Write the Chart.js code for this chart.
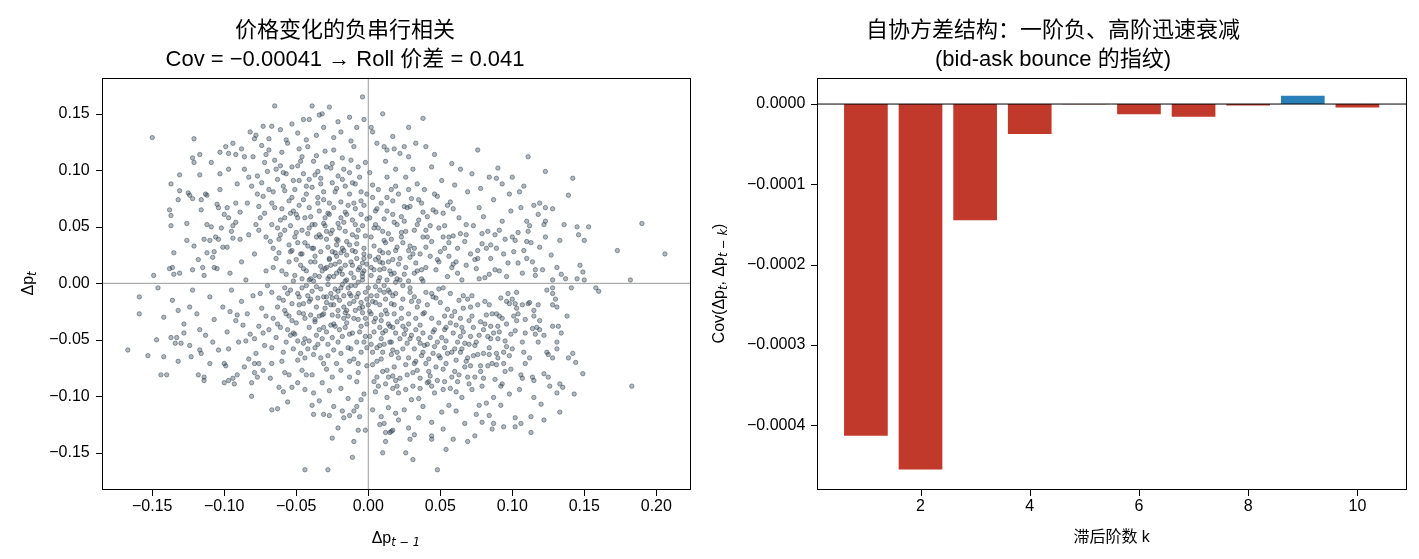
<!DOCTYPE html>
<html>
<head>
<meta charset="utf-8">
<script src="https://cdn.jsdelivr.net/npm/chart.js@4.4.1/dist/chart.umd.min.js"></script>
<style>
  body { margin: 0; background: #fff; width: 1419px; height: 559px; overflow: hidden; position: relative; }
  .panel { position: absolute; top: 0; height: 559px; }
  #leftPanel  { left: 0;     width: 700px; }
  #rightPanel { left: 700px; width: 719px; }
</style>
</head>
<body>
<div class="panel" id="leftPanel"><canvas id="scatterChart"></canvas></div>
<div class="panel" id="rightPanel"><canvas id="acfChart"></canvas></div>
<script>
// ─────────────────────────────────────────────
// Data
// ─────────────────────────────────────────────

// (Δp_{t-1}, Δp_t) pairs — sparse edge of the cloud
const scatterOuter = [
  [-0.150,0.129],[-0.121,0.128],[-0.065,0.157],[-0.039,0.157],[-0.027,0.156],[-0.004,0.165],[0.010,0.150],[-0.073,0.139],
  [-0.067,0.139],[-0.082,0.134],[-0.079,0.128],[-0.069,0.128],[-0.045,0.145],[-0.041,0.145],[-0.034,0.149],[-0.032,0.150],
  [-0.013,0.147],[-0.003,0.145],[0.017,0.130],[-0.131,0.096],[-0.137,0.088],[-0.138,0.065],[-0.137,0.060],[-0.137,0.051],
  [-0.135,0.027],[-0.149,0.007],[-0.138,0.013],[-0.136,0.014],[-0.131,0.009],[-0.135,0.008],[-0.131,0.082],[-0.132,0.074],
  [-0.126,0.053],[-0.121,0.033],[-0.122,0.111],[-0.121,0.107],[-0.117,0.114],[-0.117,0.096],[-0.125,0.080],[-0.124,0.078],
  [-0.122,0.075],[-0.116,0.074],[-0.113,0.079],[-0.112,0.078],[-0.116,0.065],[-0.109,0.107],[-0.103,0.116],[-0.099,0.121],
  [-0.103,0.097],[-0.097,0.115],[-0.097,0.101],[-0.092,0.114],[-0.086,0.112],[-0.114,0.039],[-0.110,0.038],[-0.104,0.039],
  [-0.112,0.027],[-0.108,0.023],[-0.109,0.050],[-0.105,0.070],[-0.104,0.067],[-0.098,0.067],[-0.097,0.058],[-0.092,0.054],
  [-0.102,0.049],[-0.095,0.046],[-0.094,0.040],[-0.101,0.032],[-0.107,0.014],[-0.105,0.013],[-0.115,0.014],[-0.122,0.012],
  [0.038,0.146],[0.028,0.138],[0.002,0.138],[0.003,0.134],[0.033,0.124],[0.040,0.121],[0.025,0.121],[0.011,0.121],
  [0.013,0.118],[0.076,0.118],[0.111,0.112],[0.123,0.099],[0.142,0.093],[0.139,0.078],[0.090,0.102],[0.089,0.093],
  [0.100,0.094],[0.108,0.086],[0.105,0.081],[0.190,0.053],[0.206,0.026],[0.173,0.029],[0.182,0.003],[0.153,0.050],
  [0.145,0.050],[0.150,0.038],[0.146,0.043],[0.136,0.052],[0.133,0.038],[0.128,0.066],[0.123,0.067],[0.122,0.052],
  [0.123,0.041],[0.119,0.032],[0.147,0.016],[0.149,0.010],[0.145,0.004],[0.150,0.003],[0.131,0.014],[0.137,0.004],
  [0.128,0.003],[0.116,0.007],[0.115,0.069],[0.119,0.071],[0.118,0.061],[0.123,0.055],[0.110,0.055],[0.111,0.046],
  [0.110,0.037],[-0.167,-0.059],[-0.159,-0.012],[-0.159,-0.027],[-0.146,-0.004],[-0.153,-0.064],[-0.142,-0.030],[-0.147,-0.050],
  [-0.144,-0.081],[-0.140,-0.081],[-0.142,-0.065],[-0.132,-0.069],[-0.123,-0.065],[-0.136,-0.015],[-0.132,-0.024],[-0.124,-0.021],
  [-0.137,-0.048],[-0.133,-0.048],[-0.128,-0.044],[-0.134,-0.053],[-0.130,-0.053],[-0.124,-0.055],[-0.118,-0.081],[-0.114,-0.083],
  [-0.114,-0.086],[-0.117,-0.059],[-0.117,-0.041],[-0.110,-0.071],[-0.100,-0.088],[-0.097,-0.086],[-0.094,-0.084],[-0.093,-0.089],
  [-0.099,-0.073],[-0.081,-0.100],[-0.077,-0.083],[-0.079,-0.071],[-0.076,-0.071],[-0.067,-0.112],[-0.063,-0.111],[-0.056,-0.105],
  [-0.059,-0.096],[-0.044,-0.165],[-0.028,-0.165],[-0.038,-0.116],[-0.038,-0.097],[-0.027,-0.117],[-0.025,-0.137],[-0.021,-0.128],
  [-0.011,-0.154],[-0.010,-0.140],[-0.007,-0.130],[-0.002,-0.130],[-0.017,-0.119],[-0.013,-0.117],[-0.010,-0.113],[-0.008,-0.109],
  [-0.005,-0.103],[0.010,-0.150],[0.012,-0.140],[0.012,-0.132],[0.015,-0.132],[0.017,-0.130],[0.011,-0.124],[0.009,-0.118],
  [0.019,-0.115],[0.014,-0.110],[0.048,-0.165],[0.031,-0.156],[0.026,-0.150],[0.054,-0.147],[0.069,-0.140],[0.074,-0.135],
  [0.059,-0.138],[0.044,-0.138],[0.044,-0.135],[0.032,-0.134],[0.029,-0.138],[0.016,-0.131],[0.086,-0.129],[0.087,-0.124],
  [0.094,-0.127],[0.102,-0.127],[0.106,-0.124],[0.113,-0.132],[0.113,-0.118],[0.102,-0.119],[0.079,-0.123],[0.122,-0.121],
  [0.133,-0.114],[0.120,-0.107],[0.183,-0.091],[0.149,-0.080],[0.143,-0.098],[0.144,-0.070],[0.142,-0.062],[0.139,-0.066],
  [0.135,-0.092],[0.133,-0.089],[0.131,-0.097],[0.126,-0.091],[0.125,-0.083],[0.122,-0.080],[0.115,-0.101],[0.115,-0.086],
  [0.107,-0.084],[0.131,-0.052],[0.131,-0.058],[0.128,-0.066],[0.124,-0.061],[0.125,-0.063],[0.128,-0.038],[0.132,-0.038],
  [0.134,-0.044],[0.122,-0.046],[0.119,-0.041],[0.114,-0.040],[0.116,-0.045],[0.128,-0.004],[0.128,-0.009],[0.130,-0.014],
  [0.128,-0.019],[0.141,-0.004],[0.158,-0.004],[0.160,-0.007],[0.118,-0.019],[0.115,-0.024],[0.109,-0.032],[0.103,-0.033],
  [0.104,-0.027],[0.101,-0.029],[0.112,-0.017],[0.107,-0.019],[0.102,-0.018],[0.098,-0.018],[0.100,-0.014],
  [-0.094,0.124],[-0.088,0.119],[-0.078,0.131],[-0.074,0.122],[-0.061,0.136],[-0.057,0.127],[-0.049,0.133],[-0.043,0.127],
  [-0.036,0.131],[-0.031,0.138],[-0.024,0.129],[-0.019,0.134],[-0.012,0.126],[-0.008,0.138],[0.006,0.124],[0.018,0.119],
  [0.028,0.112],[0.046,0.114],[0.058,0.106],[0.064,0.101],[-0.021,0.143],[-0.053,0.141],
  [-0.006,-0.118],[0.003,-0.112],[0.008,-0.125],[0.021,-0.121],[0.028,-0.128],[0.038,-0.109],[0.044,-0.123],[0.052,-0.129],
  [0.061,-0.113],[0.067,-0.124],[0.077,-0.108],[0.084,-0.117],[0.092,-0.108],[-0.018,-0.113],[-0.031,-0.116],[-0.039,-0.108],
  [0.121,0.012],[0.124,-0.006],[0.127,0.025],[0.131,-0.021],[0.134,0.008],[0.119,-0.033],[0.138,-0.029],[0.112,0.051],
  [0.106,0.067],[0.098,0.079],[0.093,0.088],[0.084,0.094],[0.078,0.084],
  [-0.118,0.021],[-0.122,-0.006],[-0.126,0.038],[-0.119,-0.027],[-0.114,0.007],[-0.108,-0.052],[-0.116,-0.062],[-0.106,0.041],
  [-0.128,-0.036],
];

// (Δp_{t-1}, Δp_t) pairs — body of the cloud
const scatterCore = [
  [-0.091,0.088],[-0.084,0.071],[-0.077,0.095],[-0.072,0.062],[-0.066,0.081],[-0.061,0.104],[-0.058,0.047],[-0.055,0.073],
  [-0.052,0.091],[-0.049,0.058],[-0.046,0.112],[-0.044,0.036],[-0.041,0.067],[-0.039,0.085],[-0.037,0.052],[-0.035,0.099],
  [-0.033,0.028],[-0.031,0.074],[-0.029,0.046],[-0.027,0.061],[-0.025,0.089],[-0.023,0.017],[-0.021,0.038],[-0.019,0.072],
  [-0.017,0.054],[-0.015,0.025],[-0.013,0.098],[-0.011,0.043],[-0.009,0.066],[-0.007,0.012],[-0.005,0.081],[-0.003,0.031],
  [-0.001,0.057],[-0.098,0.032],[-0.094,0.051],[-0.088,0.019],[-0.083,0.043],[-0.079,0.026],[-0.075,0.058],[-0.071,0.011],
  [-0.068,0.037],[-0.064,0.022],[-0.060,0.066],[-0.057,0.008],[-0.053,0.029],[-0.050,0.045],[-0.047,0.016],[-0.043,0.079],
  [-0.040,0.004],[-0.036,0.041],[-0.032,0.011],[-0.028,0.032],[-0.024,0.006],[-0.020,0.049],[-0.016,0.002],[-0.012,0.019],
  [-0.008,0.035],[-0.004,0.009],[-0.086,0.101],[-0.080,0.112],[-0.073,0.077],[-0.069,0.118],[-0.063,0.092],[-0.056,0.124],
  [-0.051,0.083],[-0.045,0.097],[-0.042,0.121],[-0.038,0.108],[-0.034,0.064],[-0.030,0.117],[-0.026,0.102],[-0.022,0.084],
  [-0.018,0.111],[-0.014,0.069],[-0.010,0.121],[-0.006,0.094],[-0.002,0.107],[-0.112,0.052],[-0.107,0.028],[-0.103,0.083],
  [-0.100,0.061],[-0.096,0.009],[-0.092,0.071],[-0.089,0.039],[-0.085,0.003],[-0.081,0.086],[-0.076,0.047],[-0.070,0.099],
  [-0.067,0.052],[-0.062,0.039],[-0.059,0.086],[-0.054,0.062],[-0.048,0.069],[-0.046,0.026],[-0.041,0.049],[-0.037,0.019],
  [-0.033,0.088],[-0.029,0.014],[-0.026,0.044],[-0.022,0.024],[-0.018,0.092],[-0.015,0.037],[-0.011,0.056],[-0.007,0.047],
  [-0.003,0.022],[-0.065,0.109],[-0.053,0.103],[-0.048,0.091],[-0.044,0.058],[-0.039,0.031],[-0.035,0.076],[-0.031,0.053],
  [-0.027,0.022],[-0.024,0.067],[-0.020,0.011],[-0.016,0.046],[-0.013,0.079],[-0.009,0.028],[-0.005,0.061],[-0.002,0.042],
  [0.003,0.087],[0.005,0.052],[0.007,0.023],[0.009,0.071],[0.011,0.038],[0.013,0.094],[0.015,0.011],[0.017,0.061],
  [0.019,0.029],[0.021,0.079],[0.023,0.045],[0.025,0.008],[0.027,0.067],[0.029,0.033],[0.031,0.101],[0.033,0.018],
  [0.035,0.056],[0.037,0.004],[0.039,0.083],[0.041,0.041],[0.043,0.024],[0.045,0.065],[0.047,0.012],[0.049,0.049],
  [0.051,0.091],[0.053,0.031],[0.055,0.006],[0.057,0.072],[0.059,0.042],[0.061,0.019],[0.063,0.058],[0.065,0.003],
  [0.067,0.037],[0.069,0.081],[0.071,0.026],[0.073,0.051],[0.075,0.013],[0.077,0.067],[0.079,0.035],[0.081,0.005],
  [0.083,0.046],[0.085,0.022],[0.087,0.074],[0.089,0.031],[0.091,0.011],[0.093,0.055],[0.095,0.039],[0.097,0.018],
  [0.099,0.064],[0.101,0.028],[0.104,0.045],[0.107,0.009],[0.110,0.022],[0.113,0.036],[0.116,0.012],[0.002,0.014],
  [0.004,0.033],[0.006,0.066],[0.008,0.005],[0.010,0.046],[0.012,0.108],[0.014,0.027],[0.016,0.083],[0.018,0.009],
  [0.020,0.052],[0.022,0.115],[0.024,0.036],[0.026,0.094],[0.028,0.002],[0.030,0.075],[0.032,0.047],[0.034,0.088],
  [0.036,0.026],[0.038,0.063],[0.040,0.014],[0.044,0.103],[0.048,0.077],[0.052,0.062],[0.056,0.024],[0.060,0.087],
  [0.064,0.044],[0.068,0.016],[0.072,0.097],[0.076,0.029],[0.080,0.059],[0.084,0.008],[0.088,0.043],
  [-0.002,-0.008],[-0.004,-0.021],[-0.006,-0.043],[-0.008,-0.012],[-0.010,-0.031],[-0.012,-0.058],[-0.014,-0.004],[-0.016,-0.026],
  [-0.018,-0.047],[-0.020,-0.015],[-0.022,-0.071],[-0.024,-0.036],[-0.026,-0.009],[-0.028,-0.054],[-0.030,-0.022],[-0.032,-0.088],
  [-0.034,-0.041],[-0.036,-0.003],[-0.038,-0.063],[-0.040,-0.028],[-0.042,-0.011],[-0.044,-0.049],[-0.046,-0.077],[-0.048,-0.019],
  [-0.050,-0.035],[-0.052,-0.058],[-0.054,-0.006],[-0.056,-0.041],[-0.058,-0.024],[-0.060,-0.069],[-0.062,-0.013],[-0.064,-0.048],
  [-0.066,-0.031],[-0.068,-0.084],[-0.070,-0.002],[-0.072,-0.055],[-0.074,-0.022],[-0.076,-0.038],[-0.078,-0.062],[-0.080,-0.011],
  [-0.082,-0.045],[-0.084,-0.027],[-0.086,-0.074],[-0.088,-0.016],[-0.090,-0.052],[-0.092,-0.033],[-0.095,-0.006],[-0.098,-0.043],
  [-0.101,-0.021],[-0.104,-0.059],[-0.107,-0.032],[-0.110,-0.012],[-0.113,-0.046],[-0.001,-0.036],[-0.003,-0.052],[-0.005,-0.017],
  [-0.007,-0.071],[-0.009,-0.002],[-0.011,-0.044],[-0.013,-0.083],[-0.015,-0.035],[-0.017,-0.011],[-0.019,-0.062],[-0.021,-0.029],
  [-0.023,-0.005],[-0.025,-0.048],[-0.027,-0.095],[-0.029,-0.017],[-0.031,-0.039],[-0.033,-0.066],[-0.035,-0.013],[-0.037,-0.032],
  [-0.039,-0.081],[-0.041,-0.051],[-0.043,-0.002],[-0.045,-0.027],[-0.047,-0.062],[-0.049,-0.009],[-0.051,-0.045],[-0.053,-0.092],
  [-0.055,-0.029],[-0.057,-0.052],[-0.059,-0.015],[-0.063,-0.036],[-0.067,-0.057],[-0.071,-0.029],[-0.075,-0.009],[-0.079,-0.049],
  [-0.083,-0.067],[-0.087,-0.037],[-0.091,-0.081],[-0.096,-0.025],[-0.100,-0.071],[-0.003,-0.098],[-0.008,-0.087],[-0.014,-0.102],
  [-0.019,-0.093],[-0.024,-0.109],[-0.029,-0.076],[-0.034,-0.104],[-0.044,-0.094],[-0.049,-0.088],[-0.058,-0.079],[-0.062,-0.092],
  [-0.073,-0.077],[-0.081,-0.088],
  [0.002,-0.011],[0.004,-0.034],[0.006,-0.057],[0.008,-0.019],[0.010,-0.078],[0.012,-0.042],[0.014,-0.006],[0.016,-0.063],
  [0.018,-0.027],[0.020,-0.091],[0.022,-0.049],[0.024,-0.014],[0.026,-0.072],[0.028,-0.036],[0.030,-0.103],[0.032,-0.058],
  [0.034,-0.021],[0.036,-0.084],[0.038,-0.044],[0.040,-0.008],[0.042,-0.067],[0.044,-0.031],[0.046,-0.097],[0.048,-0.052],
  [0.050,-0.017],[0.052,-0.076],[0.054,-0.039],[0.056,-0.108],[0.058,-0.061],[0.060,-0.025],[0.062,-0.087],[0.064,-0.047],
  [0.066,-0.011],[0.068,-0.069],[0.070,-0.033],[0.072,-0.094],[0.074,-0.055],[0.076,-0.019],[0.078,-0.078],[0.080,-0.041],
  [0.082,-0.106],[0.084,-0.063],[0.086,-0.027],[0.088,-0.085],[0.090,-0.049],[0.092,-0.013],[0.094,-0.071],[0.096,-0.036],
  [0.098,-0.098],[0.100,-0.058],[0.103,-0.022],[0.106,-0.081],[0.109,-0.044],[0.112,-0.066],[0.115,-0.029],[0.118,-0.052],
  [0.001,-0.047],[0.003,-0.072],[0.005,-0.003],[0.007,-0.091],[0.009,-0.028],[0.011,-0.054],[0.013,-0.101],[0.015,-0.038],
  [0.017,-0.082],[0.019,-0.009],[0.021,-0.066],[0.023,-0.031],[0.025,-0.112],[0.027,-0.053],[0.029,-0.004],[0.031,-0.079],
  [0.033,-0.041],[0.035,-0.119],[0.037,-0.064],[0.039,-0.026],[0.041,-0.088],[0.043,-0.048],[0.045,-0.012],[0.047,-0.074],
  [0.049,-0.035],[0.051,-0.114],[0.053,-0.057],[0.055,-0.023],[0.057,-0.093],[0.059,-0.044],[0.061,-0.068],[0.063,-0.015],
  [0.065,-0.101],[0.067,-0.053],[0.069,-0.083],[0.071,-0.021],[0.073,-0.064],[0.075,-0.116],[0.077,-0.046],[0.079,-0.091],
  [0.081,-0.016],[0.083,-0.073],[0.085,-0.038],[0.087,-0.101],[0.089,-0.062],[0.091,-0.029],[0.093,-0.089],[0.095,-0.051],
  [0.097,-0.009],[0.099,-0.076],[0.102,-0.042],[0.105,-0.094],[0.108,-0.061],[0.111,-0.018],[0.114,-0.083],[0.117,-0.039],
  [-0.028,0.004],[-0.025,-0.013],[-0.022,0.009],[-0.019,-0.004],[-0.016,0.016],[-0.013,-0.018],[-0.010,0.005],[-0.007,-0.009],
  [-0.004,0.018],[-0.001,-0.014],[0.002,0.007],[0.005,-0.017],[0.008,0.012],[0.011,-0.002],[0.014,0.019],[0.017,-0.011],
  [0.020,0.004],[0.023,-0.022],[0.026,0.014],[0.029,-0.008],[0.032,0.009],[0.035,-0.016],[0.038,0.002],[-0.031,-0.027],
  [-0.027,0.021],[-0.023,-0.038],[-0.019,0.027],[-0.015,-0.024],[-0.011,0.029],[-0.007,-0.032],[-0.003,0.026],[0.001,-0.025],
  [0.005,0.021],[0.009,-0.033],[0.013,0.003],[0.017,-0.039],[0.021,0.017],[0.025,-0.045],[0.029,0.023],[0.033,-0.031],
  [0.037,0.012],[-0.026,-0.019],[-0.021,-0.007],[-0.017,-0.031],[-0.012,-0.011],[-0.008,0.022],[-0.004,-0.026],[0.000,-0.004],
  [0.004,-0.043],[0.008,-0.006],[0.012,-0.024],[0.016,0.008],[0.020,-0.034],[0.024,-0.002],[0.028,-0.027],[0.032,-0.012],
  [0.036,-0.037],[-0.045,0.013],[-0.041,-0.016],[-0.037,0.007],[-0.033,-0.005],[-0.029,0.039],[-0.025,0.028],[-0.021,0.053],
  [0.041,-0.019],[0.045,-0.043],[0.049,-0.005],[0.053,-0.029],[0.057,-0.009],[0.061,-0.037],[0.065,-0.058],[0.069,-0.014],
];

// (Δp_{t-1}, Δp_t) pairs — darkest parts of the cloud
const scatterDense = [
  [-0.058,-0.004],[-0.055,0.019],[-0.053,-0.033],[-0.051,0.007],[-0.049,-0.051],[-0.047,0.026],[-0.045,-0.018],[-0.043,0.011],
  [-0.041,-0.039],[-0.039,-0.007],[-0.037,0.024],[-0.035,-0.054],[-0.033,0.015],[-0.031,-0.012],[-0.029,-0.043],[-0.027,0.006],
  [-0.025,-0.028],[-0.023,0.027],[-0.021,-0.052],[-0.019,0.013],[-0.017,-0.021],[-0.015,0.003],[-0.013,-0.045],[-0.011,0.016],
  [-0.009,-0.024],[-0.007,0.001],[-0.005,-0.038],[-0.003,0.011],[-0.001,-0.057],[0.001,0.024],[0.003,-0.016],[0.005,-0.031],
  [0.007,0.002],[0.009,-0.049],[0.011,0.013],[0.013,-0.027],[0.015,-0.008],[0.017,0.021],[0.019,-0.044],
  [-0.057,-0.027],[-0.052,0.002],[-0.048,-0.012],[-0.044,-0.031],[-0.040,0.019],[-0.036,-0.021],[-0.032,-0.049],[-0.028,-0.001],
  [-0.024,-0.059],[-0.020,0.019],[-0.016,-0.039],[-0.012,-0.002],[-0.008,-0.052],[-0.004,0.006],[0.000,-0.019],[0.004,0.012],
  [0.008,-0.039],[0.012,-0.014],[0.016,-0.052],[0.019,0.001],[-0.054,-0.046],[-0.050,0.021],[-0.046,-0.004],[-0.042,-0.058],
  [-0.038,0.002],[-0.034,-0.029],[-0.030,0.013],[-0.026,-0.037],[-0.022,-0.012],[-0.018,0.008],[-0.014,-0.057],[-0.010,-0.016],
  [-0.006,0.014],[-0.002,-0.031],[0.002,-0.054],[0.006,-0.011],[0.010,0.027],[0.014,-0.036],[0.018,-0.019],[-0.060,0.011],
  [0.003,-0.061],[0.006,-0.083],[0.009,-0.067],[0.012,-0.089],[0.015,-0.052],[0.018,-0.074],[0.021,-0.097],[0.024,-0.058],
  [0.027,-0.081],[0.030,-0.046],[0.033,-0.069],[0.036,-0.093],[0.039,-0.055],[0.042,-0.078],[0.045,-0.062],[0.048,-0.086],
  [0.051,-0.048],[0.054,-0.071],[0.057,-0.035],[0.060,-0.058],[0.063,-0.081],[0.066,-0.043],[0.069,-0.066],[0.072,-0.029],
  [0.075,-0.052],[0.078,-0.073],[0.081,-0.036],[0.084,-0.057],[0.087,-0.044],[0.090,-0.066],[0.093,-0.031],[0.096,-0.056],
  [0.099,-0.045],[0.004,-0.087],[0.008,-0.055],[0.013,-0.077],[0.017,-0.059],[0.022,-0.084],[0.026,-0.041],[0.031,-0.091],
  [0.035,-0.049],[0.040,-0.071],[0.044,-0.091],[0.049,-0.064],[0.053,-0.041],[0.058,-0.083],[0.062,-0.052],[0.067,-0.074],
  [0.071,-0.047],[0.076,-0.063],[0.080,-0.084],[0.085,-0.049],[0.089,-0.072],[0.094,-0.061],[0.038,-0.061],[0.046,-0.056],
  [0.055,-0.062],[0.064,-0.031],[0.073,-0.039],[0.082,-0.028],[0.091,-0.043],[0.028,-0.066],[0.019,-0.086],[0.010,-0.061],
  [0.034,-0.077],[0.043,-0.082],[0.052,-0.094],[0.061,-0.096],[0.070,-0.089],
  [-0.078,0.052],[-0.074,0.089],[-0.071,0.041],[-0.067,0.071],[-0.064,0.101],[-0.061,0.056],[-0.058,0.082],[-0.055,0.034],
  [-0.052,0.064],[-0.049,0.104],[-0.046,0.047],[-0.043,0.086],[-0.040,0.059],[-0.037,0.096],[-0.034,0.043],[-0.031,0.081],
  [-0.028,0.062],[-0.025,0.106],[-0.022,0.039],[-0.019,0.058],[-0.016,0.086],[-0.013,0.034],[-0.010,0.071],[-0.007,0.103],
  [-0.004,0.051],[-0.001,0.079],[-0.076,0.068],[-0.069,0.083],[-0.063,0.049],[-0.057,0.097],[-0.051,0.041],[-0.045,0.074],
  [-0.039,0.052],[-0.033,0.093],[-0.027,0.071],[-0.021,0.095],[-0.015,0.061],[-0.009,0.088],[-0.003,0.069],[-0.072,0.107],
  [-0.060,0.116],[-0.048,0.119],[-0.036,0.113],[-0.024,0.118],[-0.012,0.109],[-0.066,0.031],[-0.054,0.051],[-0.042,0.033],
  [-0.030,0.058],[-0.018,0.031],
  [0.002,0.041],[0.005,0.064],[0.008,0.029],[0.011,0.057],[0.014,0.044],[0.017,0.073],[0.020,0.032],[0.023,0.059],
  [0.026,0.046],[0.029,0.068],[0.032,0.031],[0.035,0.074],[0.038,0.041],[0.041,0.059],[0.044,0.037],[0.047,0.063],
  [0.050,0.028],[0.053,0.051],[0.056,0.041],[0.059,0.066],[0.003,0.076],[0.007,0.049],[0.010,0.018],[0.013,0.064],
  [0.016,0.039],[0.019,0.086],[0.022,0.022],[0.025,0.055],[0.028,0.083],[0.031,0.026],[0.034,0.052],[0.037,0.071],
  [0.040,0.032],[0.043,0.051],[0.046,0.079],[0.049,0.019],[0.052,0.041],[0.055,0.069],[0.058,0.014],[0.001,0.058],
];

// (Δp_{t-1}, Δp_t) pairs — more of the busy middle band
const scatterBand = [
  [-0.069,-0.041],[-0.066,0.014],[-0.063,-0.021],[-0.061,0.043],[-0.059,-0.061],[-0.056,-0.009],[-0.054,0.028],[-0.052,-0.044],
  [-0.050,0.061],[-0.048,-0.026],[-0.046,0.004],[-0.044,-0.066],[-0.042,0.044],[-0.040,-0.014],[-0.038,0.031],[-0.036,-0.046],
  [-0.034,0.006],[-0.032,-0.028],[-0.030,0.051],[-0.028,-0.064],[-0.026,0.016],[-0.024,-0.019],[-0.022,0.034],[-0.020,-0.041],
  [-0.018,-0.001],[-0.016,0.063],[-0.014,-0.029],[-0.012,0.009],[-0.010,-0.067],[-0.008,0.041],[-0.006,-0.022],[-0.004,0.003],
  [-0.002,-0.047],[-0.067,-0.008],[-0.062,0.027],[-0.058,0.058],[-0.053,-0.018],[-0.049,0.036],[-0.045,-0.053],[-0.041,0.003],
  [-0.037,-0.034],[-0.033,0.041],[-0.029,-0.012],[-0.025,0.047],[-0.021,-0.024],[-0.017,0.029],[-0.013,-0.009],[-0.009,0.052],
  [-0.005,-0.061],[-0.001,0.017],
  [0.002,-0.027],[0.004,0.049],[0.006,-0.069],[0.008,0.019],[0.010,-0.044],[0.012,0.036],[0.014,-0.083],[0.016,-0.018],
  [0.018,0.054],[0.020,-0.061],[0.022,0.003],[0.024,-0.038],[0.026,-0.094],[0.028,0.029],[0.030,-0.016],[0.032,-0.071],
  [0.034,0.011],[0.036,-0.053],[0.038,-0.027],[0.040,0.047],[0.042,-0.087],[0.044,-0.009],[0.046,-0.041],[0.048,0.021],
  [0.050,-0.066],[0.052,-0.004],[0.054,-0.051],[0.056,0.036],[0.058,-0.029],[0.060,-0.078],[0.062,0.009],[0.064,-0.061],
  [0.066,-0.022],[0.068,0.043],[0.070,-0.054],[0.072,-0.011],[0.074,-0.083],[0.076,0.022],[0.078,-0.034],[0.080,-0.062],
  [0.082,0.031],[0.084,-0.019],[0.086,-0.071],[0.088,0.012],[0.090,-0.038],[0.092,-0.091],[0.094,0.026],[0.096,-0.016],
  [0.098,-0.064],[0.100,0.041],[0.005,-0.096],[0.011,-0.008],[0.017,-0.093],[0.023,0.041],[0.029,-0.049],[0.035,-0.102],
  [0.041,-0.054],[0.047,-0.013],[0.053,-0.087],[0.059,0.017],[0.065,-0.039],[0.071,-0.073],[0.077,0.004],[0.083,-0.047],
  [0.089,-0.027],[0.095,-0.078],[0.103,-0.008],[0.107,-0.052],[0.104,0.018],[0.109,-0.071],
  [-0.089,0.063],[-0.083,0.094],[-0.077,0.079],[-0.071,0.114],[-0.065,0.067],[-0.059,0.098],[-0.053,0.076],[-0.047,0.108],
  [-0.041,0.092],[-0.035,0.071],[-0.029,0.103],[-0.023,0.081],[-0.017,0.101],[-0.011,0.089],[-0.005,0.073],[0.001,0.098],
  [0.007,0.083],[0.013,0.076],[0.019,0.101],[0.025,0.068],
  [-0.097,-0.058],[-0.091,-0.028],[-0.085,-0.051],[-0.079,-0.079],[-0.073,-0.044],[-0.067,-0.071],[-0.061,-0.039],[-0.055,-0.081],
  [-0.049,-0.068],[-0.043,-0.081],[-0.037,-0.057],[-0.031,-0.071],[-0.025,-0.083],[-0.019,-0.077],[-0.013,-0.069],[-0.007,-0.079],
  [-0.001,-0.073],
  [0.062,0.031],[0.068,0.052],[0.074,0.021],[0.079,0.044],[0.085,0.034],[0.091,0.047],[0.096,0.006],[0.102,0.038],
  [0.108,0.029],[0.114,0.019],
];

const scatterXTicks = [-0.15, -0.10, -0.05, 0.00, 0.05, 0.10, 0.15, 0.20];
const scatterYTicks = [-0.15, -0.10, -0.05, 0.00, 0.05, 0.10, 0.15];
const scatterXRange = [-0.1851, 0.2234];
const scatterYRange = [-0.1823, 0.1820];
const axisCross = [-1, 1];   // span of the two reference lines through 0

// autocovariance by lag
const lags    = [1, 2, 3, 4, 5, 6, 7, 8, 9, 10];
const autocov = [-0.000413, -0.000455, -0.0001445, -0.0000374, -0.0000003,
                 -0.0000128, -0.0000158, -0.0000017, 0.0000103, -0.0000042];
const acfXTicks = [2, 4, 6, 8, 10];
const acfYTicks = [0, -0.0001, -0.0002, -0.0003, -0.0004];
const acfXRange = [0.11, 10.89];
const acfYRange = [-0.0004795, 0.0000328];

// ─────────────────────────────────────────────
// Styling helpers
// ─────────────────────────────────────────────
const FONT = "'Liberation Sans', 'Noto Sans CJK SC', sans-serif";
const SUB_FONT = "'DejaVu Sans', sans-serif";
const POINT_FILL = 'rgba(44,62,80,0.37)';
const POINT_EDGE = 'rgba(44,62,80,0.52)';
const RED  = '#c0392b';
const BLUE = '#2980b9';
const TICK_LEN = 6;

const minus = s => s.replace('-', '\u2212');

// text with math-style subscripts: parts = [{t, sub}]
function drawRich(ctx, parts, cx, cy, rotate) {
  const mainFont = `16px ${FONT}`;
  const subFont  = `italic 11.5px ${SUB_FONT}`;
  let total = 0;
  const widths = parts.map(p => {
    ctx.font = p.sub ? subFont : mainFont;
    const w = ctx.measureText(p.t).width;
    total += w;
    return w;
  });
  ctx.save();
  ctx.translate(cx, cy);
  if (rotate) ctx.rotate(-Math.PI / 2);
  ctx.fillStyle = '#000';
  ctx.textBaseline = 'alphabetic';
  ctx.textAlign = 'left';
  let x = -total / 2;
  parts.forEach((p, i) => {
    ctx.font = p.sub ? subFont : mainFont;
    ctx.fillText(p.t, x, p.sub ? 9 : 6);
    x += widths[i];
  });
  ctx.restore();
}

// box, outward tick marks and axis labels, drawn like matplotlib
const axesPlugin = {
  id: 'axesBox',
  afterDraw(chart, args, opts) {
    const { ctx, chartArea: a, scales } = chart;
    const left = Math.round(a.left), bottom = Math.round(a.bottom);
    ctx.save();
    ctx.strokeStyle = '#000';
    ctx.lineWidth = 1;
    ctx.strokeRect(left + 0.5, Math.round(a.top) + 0.5,
                   Math.round(a.right) - left, bottom - Math.round(a.top));
    ctx.fillStyle = '#000';
    scales.x.ticks.forEach(t => {
      const px = Math.round(scales.x.getPixelForValue(t.value));
      ctx.fillRect(px, bottom + 1, 1, TICK_LEN);
    });
    scales.y.ticks.forEach(t => {
      const py = Math.round(scales.y.getPixelForValue(t.value));
      ctx.fillRect(left - TICK_LEN, py, TICK_LEN, 1);
    });
    ctx.restore();

    const midY = (a.top + a.bottom) / 2;
    const midX = (a.left + a.right) / 2;
    if (opts.xLabel) drawRich(ctx, opts.xLabel, midX, 537, false);
    if (opts.yLabel) drawRich(ctx, opts.yLabel.parts, opts.yLabel.x, midY, true);
  }
};

function fixedTicks(values) {
  return scale => { scale.ticks = values.map(v => ({ value: v })); };
}

function axisCommon(extra) {
  return Object.assign({
    grid: { display: false, drawTicks: false },
    border: { display: false },
  }, extra);
}

function tickOpts(fmt, pad) {
  return { color: '#000', font: { family: FONT, size: 16 }, padding: pad, autoSkip: false, maxRotation: 0, callback: fmt };
}

function titleOpts(lines) {
  return {
    display: true,
    text: lines,
    color: '#000',
    font: { family: FONT, size: 22, weight: 'normal', lineHeight: 1.3 },
    padding: { top: 17, bottom: 3.5 },
  };
}

// ─────────────────────────────────────────────
// 1. Scatter — Δp_t vs Δp_{t-1}
// ─────────────────────────────────────────────
function initScatter() {
  const ctx = document.getElementById('scatterChart');
  const pts = scatterOuter.concat(scatterCore, scatterDense, scatterBand).map(([x, y]) => ({ x, y }));

  new Chart(ctx, {
    type: 'scatter',
    data: {
      datasets: [
        {
          type: 'line',
          data: axisCross.map(v => ({ x: 0, y: v })),
          borderColor: '#808080', borderWidth: 0.8, pointRadius: 0, order: 0,
        },
        {
          type: 'line',
          data: axisCross.map(v => ({ x: v, y: 0 })),
          borderColor: '#808080', borderWidth: 0.8, pointRadius: 0, order: 0,
        },
        {
          data: pts,
          pointRadius: 2.2,
          pointBorderWidth: 0.9,
          backgroundColor: POINT_FILL,
          borderColor: POINT_EDGE,
          order: 1,
        },
      ]
    },
    options: {
      responsive: true,
      maintainAspectRatio: false,
      animation: false,
      devicePixelRatio: 1,
      layout: { padding: { left: 0, right: 10, top: 0, bottom: 0 } },
      scales: {
        x: axisCommon({
          type: 'linear', min: scatterXRange[0], max: scatterXRange[1],
          afterBuildTicks: fixedTicks(scatterXTicks),
          afterFit: s => { s.height = 69.7; },
          ticks: tickOpts(v => minus(v.toFixed(2)), 8),
        }),
        y: axisCommon({
          type: 'linear', min: scatterYRange[0], max: scatterYRange[1],
          afterBuildTicks: fixedTicks(scatterYTicks),
          afterFit: s => { s.width = 101.7; },
          ticks: tickOpts(v => minus(v.toFixed(2)), 12),
        }),
      },
      plugins: {
        legend: { display: false },
        tooltip: { enabled: false },
        title: titleOpts(['价格变化的负串行相关', 'Cov = \u22120.00041 \u2192 Roll 价差 = 0.041']),
        axesBox: {
          xLabel: [{ t: 'Δp' }, { t: 't \u2212 1', sub: true }],
          yLabel: { x: 27, parts: [{ t: 'Δp' }, { t: 't', sub: true }] },
        },
      }
    },
    plugins: [axesPlugin]
  });
}

// ─────────────────────────────────────────────
// 2. Autocovariance bars by lag
// ─────────────────────────────────────────────
function initAcf() {
  const ctx = document.getElementById('acfChart');

  new Chart(ctx, {
    type: 'bar',
    data: {
      datasets: [
        {
          type: 'line',
          data: acfXRange.map(x => ({ x, y: 0 })),
          borderColor: '#000', borderWidth: 1, pointRadius: 0, order: 0,
        },
        {
          data: lags.map((k, i) => ({ x: k, y: autocov[i] })),
          backgroundColor: autocov.map(v => (v > 0 ? BLUE : RED)),
          borderWidth: 0,
          barPercentage: 0.8,
          categoryPercentage: 1.0,
          order: 1,
        },
      ]
    },
    options: {
      responsive: true,
      maintainAspectRatio: false,
      animation: false,
      devicePixelRatio: 1,
      layout: { padding: { left: 0, right: 13, top: 0, bottom: 0 } },
      scales: {
        x: axisCommon({
          type: 'linear', offset: false, min: acfXRange[0], max: acfXRange[1],
          afterBuildTicks: fixedTicks(acfXTicks),
          afterFit: s => { s.height = 69.7; },
          ticks: tickOpts(v => String(v), 8),
          title: { display: true, text: '滞后阶数 k', color: '#000', font: { family: FONT, size: 16 }, padding: { top: 0, bottom: 12 } },
        }),
        y: axisCommon({
          type: 'linear', min: acfYRange[0], max: acfYRange[1],
          afterBuildTicks: fixedTicks(acfYTicks),
          afterFit: s => { s.width = 117.3; },
          ticks: tickOpts(v => minus(v.toFixed(4)), 12),
        }),
      },
      plugins: {
        legend: { display: false },
        tooltip: { enabled: false },
        title: titleOpts(['自协方差结构：一阶负、高阶迅速衰减', '(bid-ask bounce 的指纹)']),
        axesBox: {
          yLabel: { x: 18, parts: [{ t: 'Cov(Δp' }, { t: 't', sub: true }, { t: ', Δp' }, { t: 't \u2212 k', sub: true }, { t: ')' }] },
        },
      }
    },
    plugins: [axesPlugin]
  });
}

document.addEventListener('DOMContentLoaded', () => {
  initScatter();
  initAcf();
});
</script>
</body>
</html>
